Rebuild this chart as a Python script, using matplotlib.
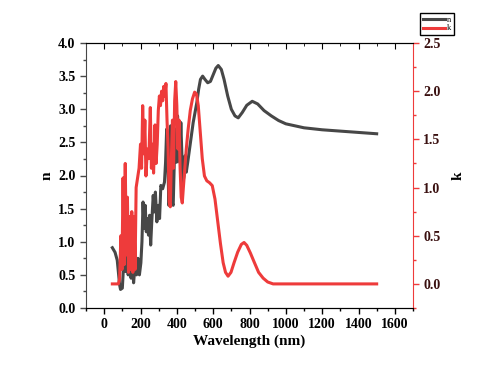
import numpy as np
import matplotlib
matplotlib.use('Agg')
import matplotlib.pyplot as plt
from matplotlib.ticker import MultipleLocator

# n (refractive index)
wl_n = [45, 60, 72, 85, 90, 100, 106, 112, 118, 125, 132, 140, 148, 155, 162, 170, 178, 186,
        194, 202, 208, 214, 220, 226, 232, 238, 244, 250, 256, 262, 270, 276, 282, 290, 298,
        305, 312, 322, 332, 338, 344, 350, 356, 362, 366, 372, 380, 386, 392, 398, 404, 410,
        416, 422, 428, 434, 440, 446, 452, 460, 470, 480, 490, 500, 510, 520, 530, 542, 555,
        570, 585, 600, 615, 628, 645, 660, 680, 700, 720, 738, 760, 785, 815, 845, 880, 920,
        960, 1000, 1050, 1100, 1200, 1300, 1400, 1500]
n_vals = [0.91, 0.84, 0.72, 0.35, 0.28, 0.30, 0.60, 1.05, 0.55, 0.95, 0.50, 0.75, 0.45, 0.72,
          0.38, 0.65, 0.50, 0.75, 0.50, 0.68, 1.00, 1.60, 1.20, 1.55, 1.15, 1.35, 1.10, 1.40,
          0.95, 1.30, 1.70, 1.45, 1.75, 1.30, 1.55, 1.35, 1.85, 1.80, 1.90, 2.20, 2.70, 2.30,
          1.55, 2.30, 2.75, 1.60, 1.55, 2.20, 2.70, 2.20, 2.90, 2.50, 2.20, 2.80, 2.30, 1.90,
          2.00, 2.30, 2.05, 2.20, 2.40, 2.60, 2.80, 2.95, 3.10, 3.30, 3.45, 3.50, 3.45, 3.40,
          3.42, 3.52, 3.62, 3.66, 3.60, 3.45, 3.20, 3.00, 2.90, 2.87, 2.95, 3.06, 3.12, 3.08,
          2.98, 2.90, 2.83, 2.78, 2.75, 2.72, 2.69, 2.67, 2.65, 2.63]

# k (extinction coefficient)
wl_k = [45, 60, 78, 85, 92, 98, 104, 110, 116, 122, 128, 134, 140, 146, 152, 158, 164, 170,
        176, 184, 192, 200, 206, 212, 218, 224, 230, 238, 246, 254, 260, 266, 272, 280, 286,
        292, 298, 304, 310, 316, 322, 328, 334, 340, 346, 352, 358, 364, 370, 376, 382, 388,
        394, 400, 406, 412, 418, 424, 430, 436, 444, 452, 462, 474, 486, 498, 508, 518, 528,
        540, 552, 565, 580, 595, 610, 625, 640, 655, 668, 682, 698, 715, 735, 755, 770, 785,
        805, 825, 850, 875, 900, 930, 1000, 1200, 1500]
k_vals = [0.0, 0.0, 0.0, 0.05, 0.50, 0.15, 1.10, 0.20, 1.25, 0.30, 0.90, 0.12, 0.70, 0.15,
          0.75, 0.12, 0.70, 0.15, 1.00, 1.10, 1.20, 1.45, 1.20, 1.85, 1.35, 1.70, 1.12, 1.40,
          1.30, 1.83, 1.20, 1.45, 1.15, 1.65, 1.25, 1.45, 1.80, 1.95, 1.85, 2.00, 1.90, 2.05,
          1.95, 2.08, 1.70, 1.40, 0.85, 0.80, 1.30, 1.70, 1.20, 1.90, 2.10, 1.85, 1.40, 1.70,
          1.20, 0.90, 0.84, 1.00, 1.20, 1.40, 1.60, 1.80, 1.92, 1.99, 1.97, 1.85, 1.60, 1.30,
          1.12, 1.07, 1.05, 1.02, 0.88, 0.65, 0.42, 0.22, 0.12, 0.08, 0.12, 0.22, 0.33, 0.41,
          0.43, 0.40, 0.32, 0.23, 0.12, 0.06, 0.02, 0.0, 0.0, 0.0, 0.0]

gray = '#474747'
red = '#ee3b3b'
font = {'family': 'Liberation Serif', 'weight': 'bold'}

fig = plt.figure(figsize=(4.82, 3.71), dpi=100)
ax = fig.add_axes([86 / 482, 1 - 308 / 371, 327 / 482, 265 / 371])
ax2 = ax.twinx()

ln1, = ax.plot(wl_n, n_vals, color=gray, lw=2.2, label='n')
ln2, = ax2.plot(wl_k, k_vals, color=red, lw=2.2, label='k')

ax.set_xlim(-100, 1700)
ax.set_ylim(0, 4)
ax2.set_ylim(-0.25, 2.5)

ax.xaxis.set_major_locator(MultipleLocator(200))
ax.xaxis.set_minor_locator(MultipleLocator(100))
ax.yaxis.set_major_locator(MultipleLocator(0.5))
ax.yaxis.set_minor_locator(MultipleLocator(0.25))
ax2.yaxis.set_major_locator(MultipleLocator(0.5))
ax2.yaxis.set_minor_locator(MultipleLocator(0.25))

ax.tick_params(axis='x', which='major', length=4, width=1, direction='out')
ax.tick_params(axis='x', which='minor', length=2, width=1, direction='out')
ax.tick_params(axis='y', which='major', length=4, width=1, color=gray)
ax.tick_params(axis='y', which='minor', length=2, width=1, color=gray)
ax2.tick_params(axis='y', which='major', length=4, width=1, color=red, labelcolor='#3a1010')
ax2.tick_params(axis='y', which='minor', length=2, width=1, color=red)

# top axis ticks point inward
sec = ax.secondary_xaxis('top')
sec.xaxis.set_major_locator(MultipleLocator(200))
sec.xaxis.set_minor_locator(MultipleLocator(100))
sec.tick_params(which='both', direction='in', labeltop=False)
sec.tick_params(which='major', length=4)
sec.tick_params(which='minor', length=2)
sec.spines['top'].set_visible(False)

ax.spines['left'].set_color(gray)
ax2.spines['left'].set_visible(False)
ax2.spines['right'].set_color(red)
ax.spines['right'].set_visible(False)

for lab in ax.get_xticklabels() + ax.get_yticklabels() + ax2.get_yticklabels():
    lab.set_fontfamily('Liberation Serif')
    lab.set_fontweight('bold')
    lab.set_fontsize(10)

ax.set_xlabel('Wavelength (nm)', fontdict=font, fontsize=11, labelpad=2)
ax.set_ylabel('n', fontdict=font, fontsize=11, labelpad=3)
ax2.set_ylabel('k', fontdict=font, fontsize=11, labelpad=8)

fig.legend([ln1, ln2], ['n', 'k'], loc='upper right', bbox_to_anchor=(458 / 482, 1 - 9 / 371),
           handlelength=2.6, handletextpad=0.3, borderpad=0.3, labelspacing=0.1,
           frameon=True, fancybox=False, edgecolor='black', framealpha=1,
           prop={'family': 'Liberation Serif', 'size': 6})

fig.savefig('out.png', dpi=100)
